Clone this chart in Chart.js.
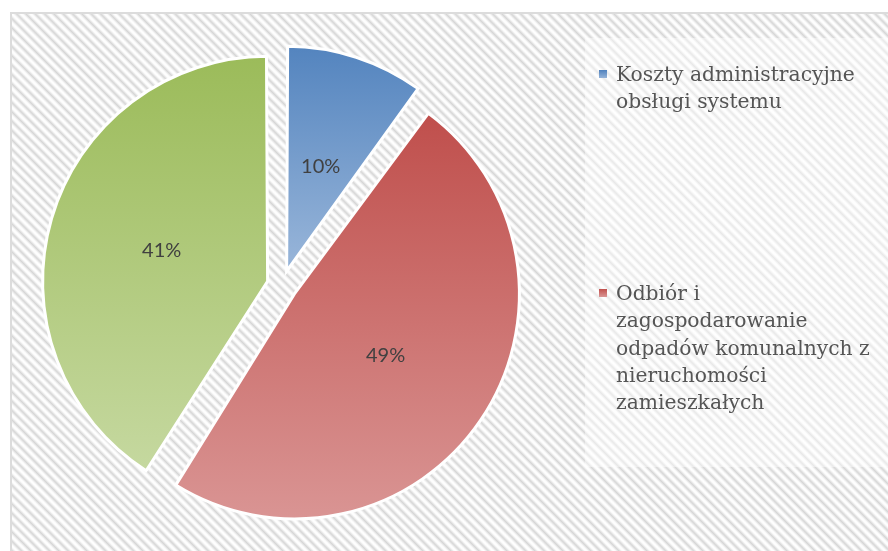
<!DOCTYPE html>
<html lang="pl">
<head>
<meta charset="utf-8">
<script src="https://cdn.jsdelivr.net/npm/chart.js"></script>
<style>
  html, body { margin: 0; padding: 0; background: #ffffff; }
  body { width: 888px; height: 551px; position: relative; overflow: hidden; }
  #frame {
    position: absolute; left: 10px; top: 12px; width: 900px; height: 560px;
    border-left: 2px solid #dcdcdc; border-top: 2px solid #dcdcdc;
    background: repeating-linear-gradient(45deg, #ffffff 0px, #fbfbfb 1px, #d6d6d6 3.3px, #fbfbfb 5.6px, #ffffff 6.6px);
  }
  #legendBox {
    position: absolute; left: 585px; top: 38px; width: 320px; height: 429px;
    background: rgba(255, 255, 255, 0.45);
  }
  #myChart { position: absolute; left: 0; top: 0; }
  .item { position: absolute; left: 616px; font-family: "DejaVu Serif", serif; font-size: 20.3px; line-height: 27.3px; color: #555555; white-space: nowrap; }
  .item i { position: absolute; left: -17px; top: 9px; width: 8px; height: 8px; }
</style>
</head>
<body>
<div id="frame"></div>
<div id="legendBox"></div>
<canvas id="myChart" width="888" height="551"></canvas>
<div id="legend"></div>
<script>
// chart data
const labels = [
    ['Koszty administracyjne', 'obsługi systemu'],
    ['Odbiór i', 'zagospodarowanie', 'odpadów komunalnych z', 'nieruchomości', 'zamieszkałych']
];
const shareLabels = ['Koszty administracyjne obsługi systemu', 'Odbiór i zagospodarowanie odpadów komunalnych z nieruchomości zamieszkałych', 'Pozostałe'];
const values = [10, 49, 41];
const topColors = ['#4f81bd', '#c0504d', '#9bbb59'];
const bottomColors = ['#95b3d8', '#da9695', '#c5d89f'];
const legendTops = [61, 280];

const R = 225;
const OFFSET = 60; // chart.js moves arc by offset/4

// legend drawn as html, text from labels
let html = '';
for (let i = 0; i < labels.length; i++) {
    html += '<div class="item" style="top:' + legendTops[i] + 'px"><i style="background:linear-gradient(' + topColors[i] + ',' + bottomColors[i] + ')"></i>' + labels[i].join('<br>') + '</div>';
}
document.getElementById('legend').innerHTML = html;

function sliceGradient(c) {
    const chart = c.chart;
    const area = chart.chartArea;
    const i = c.dataIndex;
    if (!area || i === undefined) return topColors[i || 0];
    const cx = (area.left + area.right) / 2;
    const cy = (area.top + area.bottom) / 2;
    const total = values.reduce((a, b) => a + b, 0);
    let before = 0;
    for (let k = 0; k < i; k++) before += values[k];
    const a0 = -Math.PI / 2 + before / total * 2 * Math.PI;
    const a1 = a0 + values[i] / total * 2 * Math.PI;
    const mid = (a0 + a1) / 2;
    const oy = cy + Math.sin(mid) * OFFSET / 4;
    let ys = [oy, oy + R * Math.sin(a0), oy + R * Math.sin(a1)];
    if (a0 < Math.PI / 2 && a1 > Math.PI / 2) ys.push(oy + R);
    if (a0 < -Math.PI / 2 + 0.0001 && a1 > -Math.PI / 2) ys.push(oy - R);
    if (a1 > 1.5 * Math.PI) ys.push(oy - R);
    const g = chart.ctx.createLinearGradient(0, Math.min(...ys), 0, Math.max(...ys));
    g.addColorStop(0, topColors[i]);
    g.addColorStop(1, bottomColors[i]);
    return g;
}

// keep every slice the same radius after the offset
const radiusFix = {
    id: 'radiusFix',
    afterDatasetsUpdate(chart) {
        chart.getDatasetMeta(0).data.forEach(arc => {
            const circ = arc.endAngle - arc.startAngle;
            const fix = 1 - Math.sin(Math.min(Math.PI, circ));
            arc.outerRadius = R - (OFFSET / 4) * fix;
        });
    }
};

const percentLabels = {
    id: 'percentLabels',
    afterDatasetsDraw(chart) {
        const ctx = chart.ctx;
        const total = values.reduce((a, b) => a + b, 0);
        ctx.save();
        ctx.font = '20px Lato';
        ctx.fillStyle = '#404040';
        ctx.textAlign = 'center';
        ctx.textBaseline = 'middle';
        chart.getDatasetMeta(0).data.forEach((arc, i) => {
            const mid = (arc.startAngle + arc.endAngle) / 2;
            const d = OFFSET / 4 + R * 0.49;
            ctx.fillText(Math.round(values[i] / total * 100) + '%', arc.x + Math.cos(mid) * d, arc.y + Math.sin(mid) * d);
        });
        ctx.restore();
    }
};

const config = {
    type: 'pie',
    data: {
        labels: shareLabels,
        datasets: [{
            data: values,
            backgroundColor: sliceGradient,
            borderColor: '#ffffff',
            borderWidth: 3,
            borderJoinStyle: 'miter',
            offset: OFFSET
        }]
    },
    options: {
        responsive: false,
        animation: false,
        radius: R,
        layout: { padding: { left: 0, right: 324, top: 20, bottom: 0 } },
        plugins: {
            legend: { display: false },
            tooltip: { enabled: false }
        }
    },
    plugins: [radiusFix, percentLabels]
};

const myChart = new Chart(document.getElementById('myChart'), config);
</script>
</body>
</html>
